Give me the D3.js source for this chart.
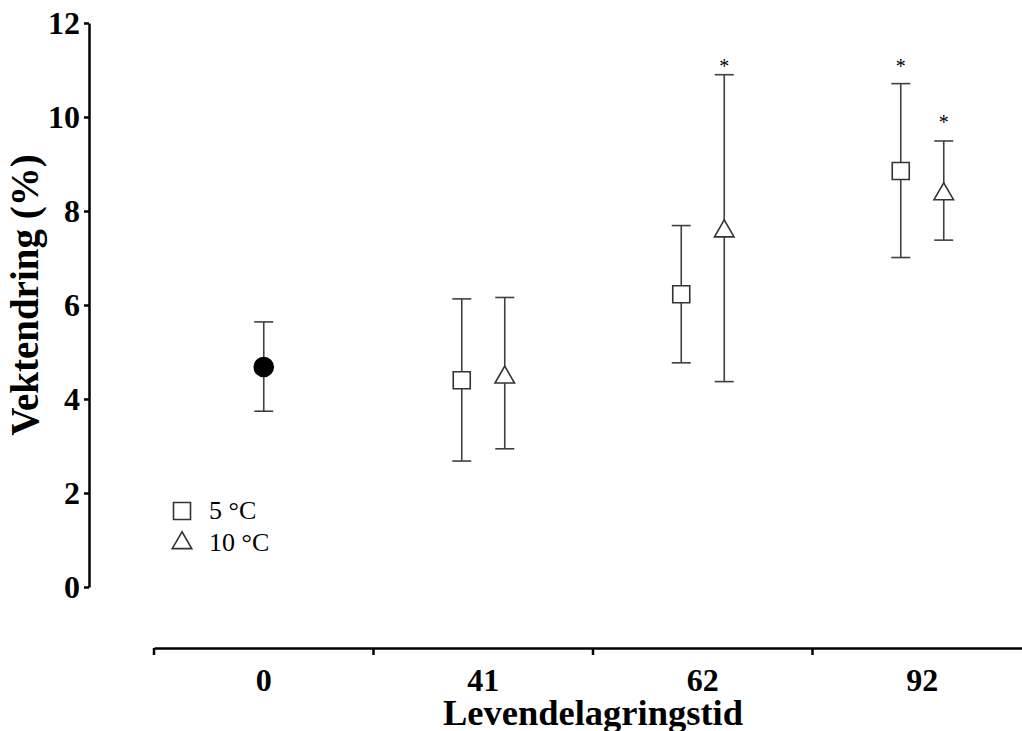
<!DOCTYPE html>
<html>
<head>
<meta charset="utf-8">
<script src="https://cdn.jsdelivr.net/npm/d3@7"></script>
<style>
  body { margin: 0; background: #fff; }
  svg { display: block; font-family: "Liberation Serif", "Times New Roman", serif; }
</style>
</head>
<body>
<svg width="1022" height="731"></svg>
<script>
// storage days (x categories)
const days = ["0", "41", "62", "92"];
const yTicks = [0, 2, 4, 6, 8, 10, 12];

// start value, day 0 (filled circle)
const controlMean = [4.68];
const controlHigh = [5.64];
const controlLow = [3.74];

// 5 °C, squares (days 41, 62, 92)
const coldDays = ["41", "62", "92"];
const coldMean = [4.40, 6.23, 8.85];
const coldHigh = [6.13, 7.69, 10.71];
const coldLow = [2.68, 4.77, 7.01];

// 10 °C, triangles
const warmDays = ["41", "62", "92"];
const warmMean = [4.46, 7.57, 8.36];
const warmHigh = [6.16, 10.90, 9.49];
const warmLow = [2.94, 4.37, 7.38];

// where the * marks sit (significant ones)
const starSeries = ["warm", "cold", "warm"];
const starDays = ["62", "92", "92"];
const starAt = [11.13, 11.13, 9.94];

const legendLabels = ["5 °C", "10 °C"];

const svg = d3.select("svg");

const x = d3.scaleBand().domain(days).range([154, 154 + 4 * 219.5]);
const y = d3.scaleLinear().domain([0, 12]).range([587, 23]);
const shift = { control: 0, cold: -21.5, warm: 21.5 };
const xPos = (day, s) => x(day) + x.bandwidth() / 2 + shift[s];

// y axis
const yAxis = svg.append("g")
  .attr("transform", "translate(89,0)")
  .call(d3.axisLeft(y).tickValues(yTicks).tickSize(5).tickSizeOuter(0).tickPadding(4));
yAxis.select(".domain").attr("stroke", "#000").attr("stroke-width", 2.5);
yAxis.selectAll(".tick line").attr("stroke", "#000").attr("stroke-width", 2.5);
yAxis.selectAll(".tick text")
  .attr("font-family", "Liberation Serif")
  .attr("font-size", 32)
  .attr("font-weight", "bold")
  .attr("fill", "#000");

// x axis: labels in the middle of each band, ticks on the band edges
const xAxis = svg.append("g")
  .attr("transform", "translate(0,648)")
  .call(d3.axisBottom(x).tickSize(0).tickSizeOuter(0));
xAxis.select(".domain").attr("stroke", "#000").attr("stroke-width", 2.5);
xAxis.selectAll(".tick text")
  .attr("y", 43)
  .attr("dy", 0)
  .attr("font-family", "Liberation Serif")
  .attr("font-size", 32)
  .attr("font-weight", "bold")
  .attr("fill", "#000");
xAxis.selectAll("line.edge")
  .data(days)
  .enter()
  .append("line")
  .attr("class", "edge")
  .attr("x1", d => x(d))
  .attr("x2", d => x(d))
  .attr("y1", 0)
  .attr("y2", 7)
  .attr("stroke", "#000")
  .attr("stroke-width", 2.5);

// axis titles
svg.append("text")
  .attr("transform", "translate(38,295) rotate(-90)")
  .attr("text-anchor", "middle")
  .attr("font-size", 39)
  .attr("font-weight", "bold")
  .text("Vektendring (%)");

svg.append("text")
  .attr("x", 593)
  .attr("y", 725)
  .attr("text-anchor", "middle")
  .attr("font-size", 36.5)
  .attr("font-weight", "bold")
  .text("Levendelagringstid");

// gather the points into rows so the bars and markers share one pass
const rows = [];
controlMean.forEach((m, i) => rows.push({ s: "control", day: "0", mean: m, hi: controlHigh[i], lo: controlLow[i] }));
coldMean.forEach((m, i) => rows.push({ s: "cold", day: coldDays[i], mean: m, hi: coldHigh[i], lo: coldLow[i] }));
warmMean.forEach((m, i) => rows.push({ s: "warm", day: warmDays[i], mean: m, hi: warmHigh[i], lo: warmLow[i] }));

const barColor = "#404040";
const capHalf = 9.5;

const bars = svg.append("g").attr("stroke", barColor).attr("stroke-width", 1.6);
bars.selectAll("line.whisker")
  .data(rows)
  .enter()
  .append("line")
  .attr("x1", d => xPos(d.day, d.s))
  .attr("x2", d => xPos(d.day, d.s))
  .attr("y1", d => y(d.hi))
  .attr("y2", d => y(d.lo));
bars.selectAll("line.capHi")
  .data(rows)
  .enter()
  .append("line")
  .attr("x1", d => xPos(d.day, d.s) - capHalf)
  .attr("x2", d => xPos(d.day, d.s) + capHalf)
  .attr("y1", d => y(d.hi))
  .attr("y2", d => y(d.hi));
bars.selectAll("line.capLo")
  .data(rows)
  .enter()
  .append("line")
  .attr("x1", d => xPos(d.day, d.s) - capHalf)
  .attr("x2", d => xPos(d.day, d.s) + capHalf)
  .attr("y1", d => y(d.lo))
  .attr("y2", d => y(d.lo));

// markers on top of the whiskers
const shape = {
  control: d3.symbol().type(d3.symbolCircle).size(Math.PI * 9.5 * 9.5),
  cold: d3.symbol().type(d3.symbolSquare).size(17 * 17),
  warm: d3.symbol().type(d3.symbolTriangle).size(165)
};

svg.append("g").selectAll("path")
  .data(rows)
  .enter()
  .append("path")
  .attr("transform", d => `translate(${xPos(d.day, d.s)},${y(d.mean)})`)
  .attr("d", d => shape[d.s]())
  .attr("fill", d => d.s === "control" ? "#000" : "#fff")
  .attr("stroke", d => d.s === "control" ? "#000" : "#333")
  .attr("stroke-width", 1.6);

// stars
svg.append("g").selectAll("text")
  .data(starAt)
  .enter()
  .append("text")
  .attr("x", (d, i) => xPos(starDays[i], starSeries[i]))
  .attr("y", d => y(d) + 9)
  .attr("text-anchor", "middle")
  .attr("font-size", 20)
  .attr("fill", "#000")
  .text("*");

// legend
const legend = svg.append("g");
const legendShapes = [shape.cold, shape.warm];
legendLabels.forEach((label, i) => {
  const cy = 511 + i * 32;
  legend.append("path")
    .attr("transform", `translate(182,${cy})`)
    .attr("d", legendShapes[i]())
    .attr("fill", "#fff")
    .attr("stroke", "#333")
    .attr("stroke-width", 1.6);
  legend.append("text")
    .attr("x", 209)
    .attr("y", cy + 8)
    .attr("font-size", 26)
    .attr("fill", "#000")
    .text(label);
});
</script>
</body>
</html>
